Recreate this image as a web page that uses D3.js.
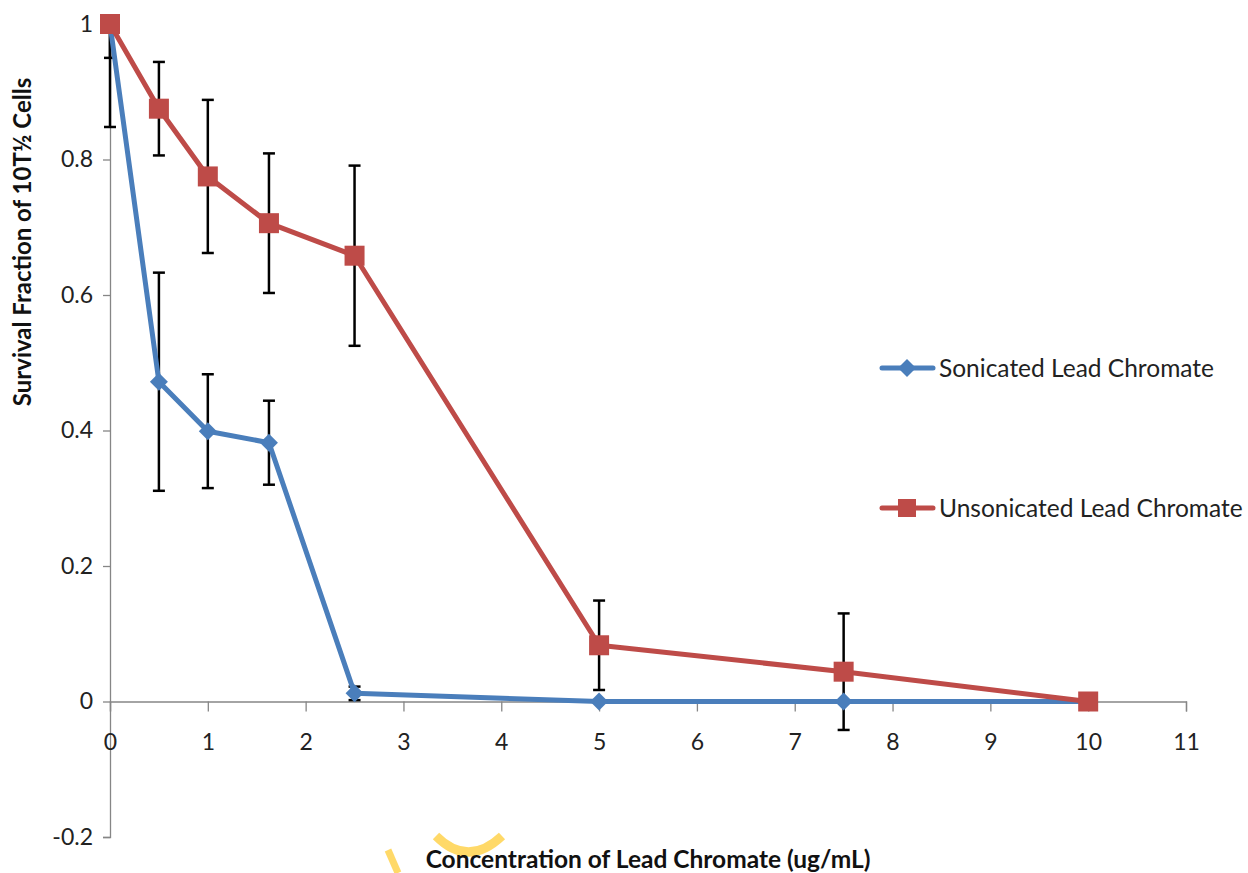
<!DOCTYPE html>
<html><head><meta charset="utf-8">
<script src="https://cdn.jsdelivr.net/npm/d3@7"></script>
<style>body{margin:0;background:#fff}svg{display:block}text{font-family:Lato,"Open Sans",sans-serif}</style>
</head><body>
<svg id="c" width="1248" height="873"></svg>
<script>
const concentrations = [0, 0.5, 1, 1.625, 2.5, 5, 7.5, 10];
const sonicated = [1, 0.472, 0.399, 0.382, 0.012, 0, 0, 0];
const sonicatedErr = [0.152, 0.161, 0.084, 0.062, 0.01, 0, 0, 0];
const unsonicated = [1, 0.875, 0.775, 0.706, 0.658, 0.083, 0.044, 0];
const unsonicatedErr = [0.05, 0.069, 0.113, 0.103, 0.133, 0.066, 0.086, 0];
const xTicks = [0,1,2,3,4,5,6,7,8,9,10,11];
const yTicks = [-0.2,0,0.2,0.4,0.6,0.8,1];
const seriesNames = ["Sonicated Lead Chromate","Unsonicated Lead Chromate"];

const svg = d3.select("#c");
const x = d3.scaleLinear().domain([0,11]).range([110,1186]);
const y = d3.scaleLinear().domain([-0.2,1]).range([837,24]);
const axisCol = "#868686";
const fmtY = d => (d<0?"-":"") + String(Math.abs(+d.toFixed(1)));

// y axis
const ya = svg.append("g").attr("transform",`translate(${x(0)},0)`)
  .call(d3.axisLeft(y).tickValues(yTicks).tickSize(7).tickPadding(10).tickFormat(fmtY));
ya.select(".domain").attr("stroke",axisCol).attr("stroke-width",1.3);
ya.selectAll(".tick line").attr("stroke",axisCol).attr("stroke-width",1.3);
ya.selectAll(".tick text").attr("font-size",23).attr("fill","#222").attr("font-family","Lato,sans-serif");

// x axis at y=0
const xa = svg.append("g").attr("transform",`translate(0,${y(0)})`)
  .call(d3.axisBottom(x).tickValues(xTicks).tickSize(10).tickPadding(22).tickSizeOuter(10));
xa.select(".domain").attr("stroke",axisCol).attr("stroke-width",1.3);
xa.selectAll(".tick line").attr("stroke",axisCol).attr("stroke-width",1.3);
xa.selectAll(".tick text").attr("font-size",23).attr("fill","#222").attr("font-family","Lato,sans-serif");

svg.append("clipPath").attr("id","clip").append("rect").attr("x",0).attr("y",y(1)).attr("width",1248).attr("height",873);

const series = [
  {name:seriesNames[0], vals:sonicated, err:sonicatedErr, col:"#4A7EBB", shape:"diamond"},
  {name:seriesNames[1], vals:unsonicated, err:unsonicatedErr, col:"#BE4B48", shape:"square"}
];

// error bars
const eg = svg.append("g").attr("clip-path","url(#clip)");
series.forEach(s=>{
  concentrations.forEach((c,i)=>{
    if(!s.err[i]) return;
    const lo = s.vals[i]-s.err[i], hi = s.vals[i]+s.err[i];
    eg.append("line").attr("x1",x(c)).attr("x2",x(c)).attr("y1",y(lo)).attr("y2",y(hi)).attr("stroke","#000").attr("stroke-width",2.5);
    [lo,hi].forEach(v=>eg.append("line").attr("x1",x(c)-6).attr("x2",x(c)+6).attr("y1",y(v)).attr("y2",y(v)).attr("stroke","#000").attr("stroke-width",2.5));
  });
});

const line = d3.line().x((d)=>x(d[0])).y(d=>y(d[1]));
function marker(g, shape, col, cx, cy){
  if(shape==="diamond"){
    g.append("path").attr("d",`M${cx},${cy-9}L${cx+9},${cy}L${cx},${cy+9}L${cx-9},${cy}Z`).attr("fill",col);
  } else {
    g.append("rect").attr("x",cx-10).attr("y",cy-10).attr("width",20).attr("height",20).attr("fill",col);
  }
}
series.forEach(s=>{
  const pts = concentrations.map((c,i)=>[c,s.vals[i]]);
  svg.append("path").datum(pts).attr("d",line).attr("fill","none").attr("stroke",s.col).attr("stroke-width",5).attr("stroke-linejoin","round");
  const mg = svg.append("g");
  pts.forEach(p=>marker(mg,s.shape,s.col,x(p[0]),y(p[1])));
});

// legend
const legY = [368,508];
series.forEach((s,i)=>{
  const g = svg.append("g");
  g.append("line").attr("x1",882).attr("x2",933).attr("y1",legY[i]).attr("y2",legY[i]).attr("stroke",s.col).attr("stroke-width",5).attr("stroke-linecap","round");
  if(s.shape==="diamond") marker(g,"diamond",s.col,907,legY[i]);
  else g.append("rect").attr("x",898).attr("y",legY[i]-9).attr("width",18).attr("height",18).attr("fill",s.col);
  g.append("text").attr("x",939).attr("y",legY[i]).attr("dy","0.36em").attr("font-size",24.5).attr("fill","#222").text(s.name);
});

// faint watermark fragments
svg.append("path").attr("d","M436,836 Q468,868 502,836").attr("fill","none").attr("stroke","#FFD24D").attr("stroke-width",9).attr("opacity",0.85);
svg.append("path").attr("d","M388,850 L398,873").attr("fill","none").attr("stroke","#FFD24D").attr("stroke-width",7).attr("opacity",0.85);

// axis titles
svg.append("text").attr("x",648).attr("y",868).attr("text-anchor","middle").attr("font-size",24.5).attr("font-weight","bold").attr("fill","#111").text("Concentration of Lead Chromate (ug/mL)");
svg.append("text").attr("transform","translate(31,242) rotate(-90)").attr("text-anchor","middle").attr("font-size",24).attr("font-weight","bold").attr("fill","#111").text("Survival Fraction of 10T½ Cells");
</script>
</body></html>
